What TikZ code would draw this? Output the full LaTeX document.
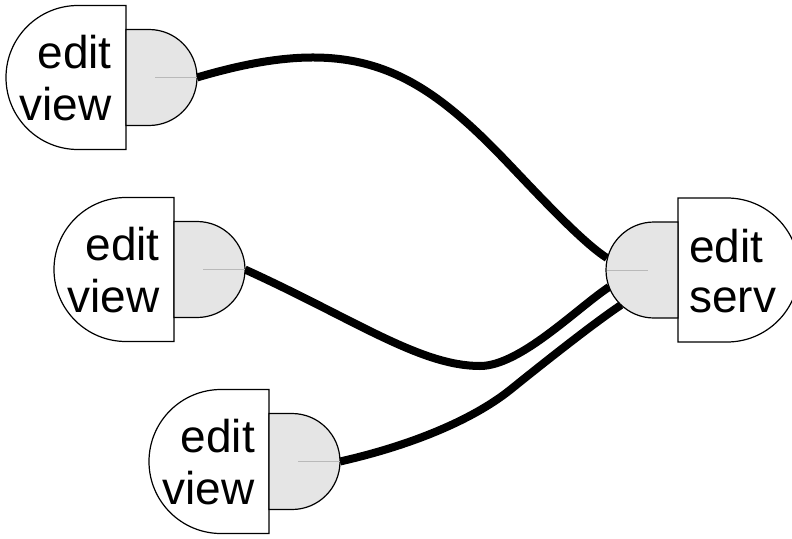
\documentclass[tikz,border=0pt]{standalone}
\usepackage{fontspec}
\setmainfont{Liberation Sans}
\usetikzlibrary{backgrounds}
\tikzset{
  body/.style={draw=black,line width=1.2pt,fill=white},
  plug/.style={draw=black,line width=1.2pt,fill=gray!20},
  pin/.style={draw=gray!55,line width=0.6pt},
  cable/.style={draw=black,line width=8pt},
  lbl/.style={font=\fontsize{46}{50}\selectfont,inner sep=0pt},
  % client part: round body on the left, connector plug on the right
  pics/viewer/.style={code={
    \path[body] (0,-72) -- (-48,-72) arc[start angle=270,end angle=90,radius=72]
                -- (0,72) -- cycle;
    \path[plug] (0,-48) -- (23,-48) arc[start angle=270,end angle=450,radius=48]
                -- (0,48) -- cycle;
    \draw[pin] (29,0) -- (71,0);
    \coordinate (-tip) at (71,0);
    \node[lbl,anchor=base east] (-top) at (-14,-9.5) {edit};
    \node[lbl,anchor=base east] (-bot) at (-14,43) {view};
  }},
  % server part: plug on the left, round body on the right
  pics/server/.style={code={
    \path[body] (0,-72) -- (49,-72) arc[start angle=270,end angle=450,radius=72]
                -- (0,72) -- cycle;
    \path[plug] (0,-48) -- (-24,-48) arc[start angle=270,end angle=90,radius=48]
                -- (0,48) -- cycle;
    \draw[pin] (-71,0) -- (-30,0);
    \coordinate (-a) at (-71,-12);
    \coordinate (-b) at (-69,17);
    \coordinate (-c) at (-57,35);
    \node[lbl,anchor=base west] (-top) at (11,-8) {edit};
    \node[lbl,anchor=base west] (-bot) at (11,42.5) {serv};
  }},
}
\begin{document}
\begin{tikzpicture}[x=1pt,y=-1pt]
\useasboundingbox (0,0) rectangle (792,538);
\begin{scope}
\clip (0,0) rectangle (792,538);
\pic (v1) at (126,77.5) {viewer};
\pic (v2) at (174,269.5) {viewer};
\pic (v3) at (269,461.5) {viewer};
\pic (s) at (678,270) {server};

\begin{scope}[on background layer]
  \coordinate (m1) at (505,160);
  \coordinate (m2) at (480,366);
  \coordinate (m3) at (510,390);
  \draw[cable] (v1-tip) .. controls (350,32) and (415,66) .. (m1)
               .. controls (532.6,188.8) and (581.5,242) .. (s-a);
  \draw[cable] (v2-tip) .. controls (354,319) and (420,366) .. (m2)
               .. controls (520,366) and (576,309) .. (s-b);
  \draw[cable] (v3-tip) .. controls (408.6,446) and (471,421) .. (m3)
               .. controls (541,365) and (592.6,324) .. (s-c);
\end{scope}
\end{scope}
\end{tikzpicture}
\end{document}
